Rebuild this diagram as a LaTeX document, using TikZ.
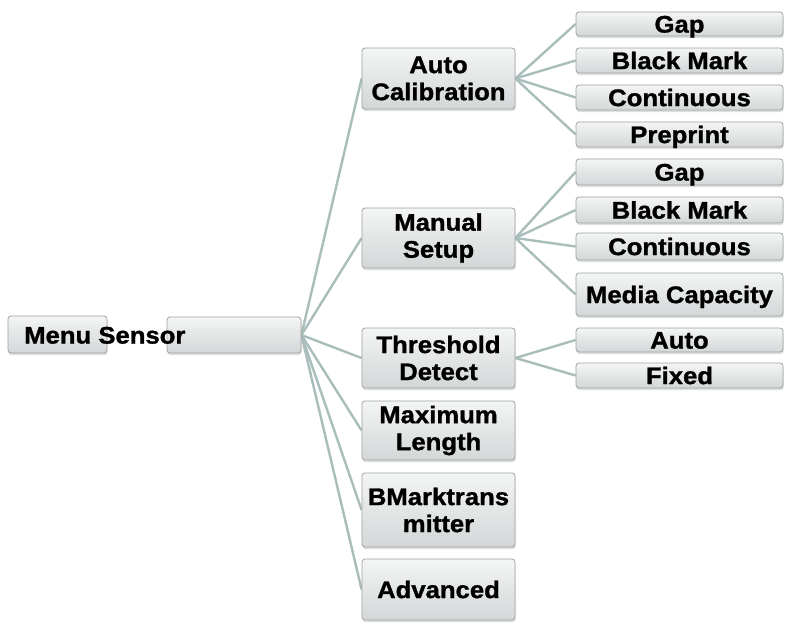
\documentclass[tikz,border=0pt]{standalone}
\usepackage{fontspec}
\setmainfont[FakeStretch=1.07, BoldFeatures={FakeBold=1.2}]{Liberation Sans}
\usetikzlibrary{shadows}
\pgfdeclarelayer{bg}
\pgfsetlayers{bg,main}
\definecolor{linec}{HTML}{A9BDBB}
\definecolor{boxtop}{HTML}{F4F5F5}
\definecolor{boxbot}{HTML}{D3D7D7}
\definecolor{boxline}{HTML}{9EA2A2}
\tikzset{
  menubox/.style={draw=boxline, line width=0.8pt, rounded corners=3pt,
    top color=boxtop, bottom color=boxbot,
    drop shadow={shadow xshift=0.6pt, shadow yshift=-2.2pt, opacity=0.25},
    inner sep=0pt, align=center, font=\fontsize{24}{27}\selectfont\bfseries},
  midbox/.style={menubox, minimum width=153pt},
  leafbox/.style={menubox, minimum width=207pt, text height=17.2pt, text depth=0pt},
  conn/.style={draw=linec, line width=2.4pt}
}
\begin{document}
\begin{tikzpicture}[x=1pt,y=-1pt]
\useasboundingbox (0,0) rectangle (790,631);
% root
\node[menubox, minimum width=99pt, minimum height=37pt] (ms) at (57.5,334.5) {};
\node[menubox, minimum width=134pt, minimum height=36pt] (root) at (234,335) {};
\node[anchor=west, inner sep=0pt, text height=17.2pt, text depth=0pt,
      font=\fontsize{24}{27}\selectfont\bfseries] (mst) at (24,335) {Menu Sensor};
% level 2
\node[midbox, minimum height=61pt] (ac) at (438.5,78.5) {Auto\\Calibration};
\node[midbox, minimum height=60pt] (msu) at (438.5,238) {Manual\\Setup};
\node[midbox, minimum height=60pt] (td) at (438.5,358) {Threshold\\Detect};
\node[midbox, minimum height=59pt] (ml) at (438.5,430.5) {Maximum\\Length};
\node[midbox, minimum height=74pt] (bm) at (438.5,510) {BMarktrans\\mitter};
\node[midbox, minimum height=61pt] (adv) at (438.5,589.5) {Advanced};
% level 3
\node[leafbox, minimum height=24pt] (g1) at (679.5,24) {Gap};
\node[leafbox, minimum height=25pt] (b1) at (679.5,60.5) {Black Mark};
\node[leafbox, minimum height=25pt] (c1) at (679.5,97.5) {Continuous};
\node[leafbox, minimum height=25pt] (p1) at (679.5,134.5) {Preprint};
\node[leafbox, minimum height=26pt] (g2) at (679.5,172) {Gap};
\node[leafbox, minimum height=26pt] (b2) at (679.5,210) {Black Mark};
\node[leafbox, minimum height=27pt] (c2) at (679.5,246.5) {Continuous};
\node[leafbox, minimum height=43pt] (mc) at (679.5,294.5) {Media Capacity};
\node[leafbox, minimum height=24pt] (au) at (679.5,340) {Auto};
\node[leafbox, minimum height=25pt] (fx) at (679.5,375.5) {Fixed};
% connectors
\begin{pgfonlayer}{bg}
\foreach \t in {ac,msu,td,ml,bm,adv} \draw[conn] (root.east) -- (\t.west);
\foreach \t in {g1,b1,c1,p1} \draw[conn] (ac.east) -- (\t.west);
\foreach \t in {g2,b2,c2,mc} \draw[conn] (msu.east) -- (\t.west);
\foreach \t in {au,fx} \draw[conn] (td.east) -- (\t.west);
\end{pgfonlayer}
\end{tikzpicture}
\end{document}
